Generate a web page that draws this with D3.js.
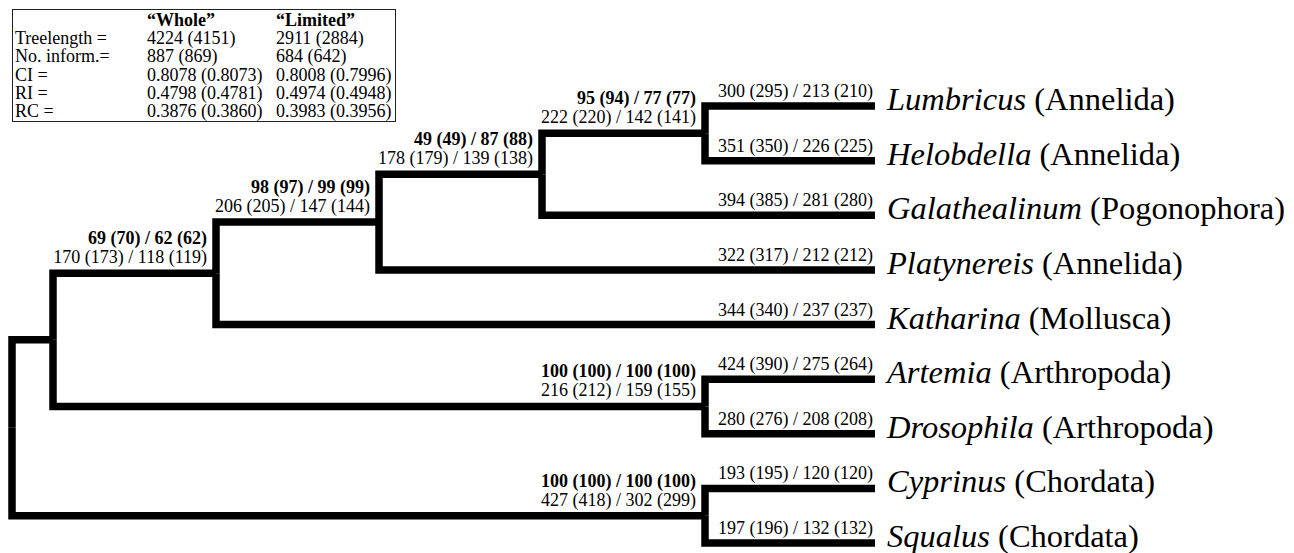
<!DOCTYPE html>
<html>
<head>
<meta charset="utf-8">
<script src="https://cdn.jsdelivr.net/npm/d3@7"></script>
<style>
  body { margin: 0; background: #fff; }
  text { font-family: "Liberation Serif", "Times New Roman", serif; fill: #000; }
</style>
</head>
<body>
<div id="tree_chart"></div>
<script>
var genera = ["Lumbricus", "Helobdella", "Galathealinum", "Platynereis", "Katharina",
              "Artemia", "Drosophila", "Cyprinus", "Squalus"];
var phyla = ["Annelida", "Annelida", "Pogonophora", "Annelida", "Mollusca",
             "Arthropoda", "Arthropoda", "Chordata", "Chordata"];
var leafSteps = ["300 (295) / 213 (210)", "351 (350) / 226 (225)", "394 (385) / 281 (280)",
                 "322 (317) / 212 (212)", "344 (340) / 237 (237)", "424 (390) / 275 (264)",
                 "280 (276) / 208 (208)", "193 (195) / 120 (120)", "197 (196) / 132 (132)"];

// topology of the tree, leaves are the genus names
var topology = [[[[[["Lumbricus", "Helobdella"], "Galathealinum"], "Platynereis"], "Katharina"],
                 ["Artemia", "Drosophila"]],
                ["Cyprinus", "Squalus"]];

// clades that carry labels, keyed by their leaves
var cladeKeys = ["Lumbricus,Helobdella",
                 "Lumbricus,Helobdella,Galathealinum",
                 "Lumbricus,Helobdella,Galathealinum,Platynereis",
                 "Lumbricus,Helobdella,Galathealinum,Platynereis,Katharina",
                 "Artemia,Drosophila",
                 "Cyprinus,Squalus"];
var cladeSupport = ["95 (94) / 77 (77)", "49 (49) / 87 (88)", "98 (97) / 99 (99)",
                    "69 (70) / 62 (62)", "100 (100) / 100 (100)", "100 (100) / 100 (100)"];
var cladeSteps = ["222 (220) / 142 (141)", "178 (179) / 139 (138)", "206 (205) / 147 (144)",
                  "170 (173) / 118 (119)", "216 (212) / 159 (155)", "427 (418) / 302 (299)"];

// statistics table
var colHeads = ["\u201cWhole\u201d", "\u201cLimited\u201d"];
var statNames = ["Treelength =", "No. inform.=", "CI =", "RI =", "RC ="];
var wholeVals = ["4224 (4151)", "887 (869)", "0.8078 (0.8073)", "0.4798 (0.4781)", "0.3876 (0.3860)"];
var limitedVals = ["2911 (2884)", "684 (642)", "0.8008 (0.7996)", "0.4974 (0.4948)", "0.3983 (0.3956)"];

var width = 1294, height = 553;

var svg = d3.select("#tree_chart")
  .append("svg")
    .attr("width", width)
    .attr("height", height);

// leaves evenly spaced, x by node height (distance to tips)
var yLeaf = d3.scalePoint()
  .domain(genera)
  .range([106, 543]);
var xHeight = d3.scaleLinear()
  .domain([0, 1, 5, 6])
  .range([875, 705, 53, 12]);

var root = d3.hierarchy(topology, function(d) { return Array.isArray(d) ? d : null; });
root.eachAfter(function(n) {
  n.px = xHeight(n.height);
  n.py = n.children ? d3.mean(n.children, function(c) { return c.py; }) : yLeaf(n.data);
  n.key = n.leaves().map(function(l) { return l.data; }).join(",");
});

// branches
svg.append("g")
  .selectAll("path")
  .data(root.links())
  .enter()
  .append("path")
    .attr("d", function(d) {
      return "M" + d.source.px + "," + d.source.py +
             "V" + d.target.py + "H" + d.target.px;
    })
    .attr("fill", "none")
    .attr("stroke", "#000")
    .attr("stroke-width", 7.5)
    .attr("stroke-linejoin", "miter")
    .attr("stroke-linecap", "butt");

// leaf names
var leaves = root.leaves();
var leafText = svg.append("g")
  .selectAll("text")
  .data(leaves)
  .enter()
  .append("text")
    .attr("x", 887)
    .attr("y", function(d) { return d.py + 4; })
    .style("font-size", "32.5px");
leafText.append("tspan")
  .style("font-style", "italic")
  .text(function(d) { return d.data; });
leafText.append("tspan")
  .text(function(d) { return " (" + phyla[genera.indexOf(d.data)] + ")"; });

// step counts on terminal branches
svg.append("g")
  .selectAll("text")
  .data(leaves)
  .enter()
  .append("text")
    .attr("x", function(d) { return d.px - 2; })
    .attr("y", function(d) { return d.py - 9; })
    .attr("text-anchor", "end")
    .style("font-size", "18px")
    .text(function(d) { return leafSteps[genera.indexOf(d.data)]; });

// support and step counts on internal branches
var clades = root.descendants().filter(function(n) { return cladeKeys.indexOf(n.key) >= 0; });
var cladeG = svg.append("g")
  .selectAll("g")
  .data(clades)
  .enter()
  .append("g");
cladeG.append("text")
    .attr("x", function(d) { return d.px - 9; })
    .attr("y", function(d) { return d.py - 29; })
    .attr("text-anchor", "end")
    .style("font-size", "18px")
    .style("font-weight", "bold")
    .text(function(d) { return cladeSupport[cladeKeys.indexOf(d.key)]; });
cladeG.append("text")
    .attr("x", function(d) { return d.px - 9; })
    .attr("y", function(d) { return d.py - 10; })
    .attr("text-anchor", "end")
    .style("font-size", "18px")
    .text(function(d) { return cladeSteps[cladeKeys.indexOf(d.key)]; });

// statistics box
var box = svg.append("g");
box.append("rect")
  .attr("x", 12.5)
  .attr("y", 9.5)
  .attr("width", 383)
  .attr("height", 112)
  .attr("fill", "#fff")
  .attr("stroke", "#222")
  .attr("stroke-width", 1);

var rowY = d3.scalePoint()
  .domain(d3.range(statNames.length + 1))
  .range([26, 117]);
var colX = [15, 147, 276];

box.selectAll("text.head")
  .data(colHeads)
  .enter()
  .append("text")
    .attr("class", "head")
    .attr("x", function(d, i) { return colX[i + 1]; })
    .attr("y", rowY(0))
    .style("font-size", "18px")
    .style("font-weight", "bold")
    .text(function(d) { return d; });

var rows = box.selectAll("g.row")
  .data(statNames)
  .enter()
  .append("g")
    .attr("class", "row");
rows.append("text")
  .attr("x", colX[0])
  .attr("y", function(d, i) { return rowY(i + 1); })
  .style("font-size", "18px")
  .text(function(d) { return d; });
rows.append("text")
  .attr("x", colX[1])
  .attr("y", function(d, i) { return rowY(i + 1); })
  .style("font-size", "18px")
  .text(function(d, i) { return wholeVals[i]; });
rows.append("text")
  .attr("x", colX[2])
  .attr("y", function(d, i) { return rowY(i + 1); })
  .style("font-size", "18px")
  .text(function(d, i) { return limitedVals[i]; });
</script>
</body>
</html>
